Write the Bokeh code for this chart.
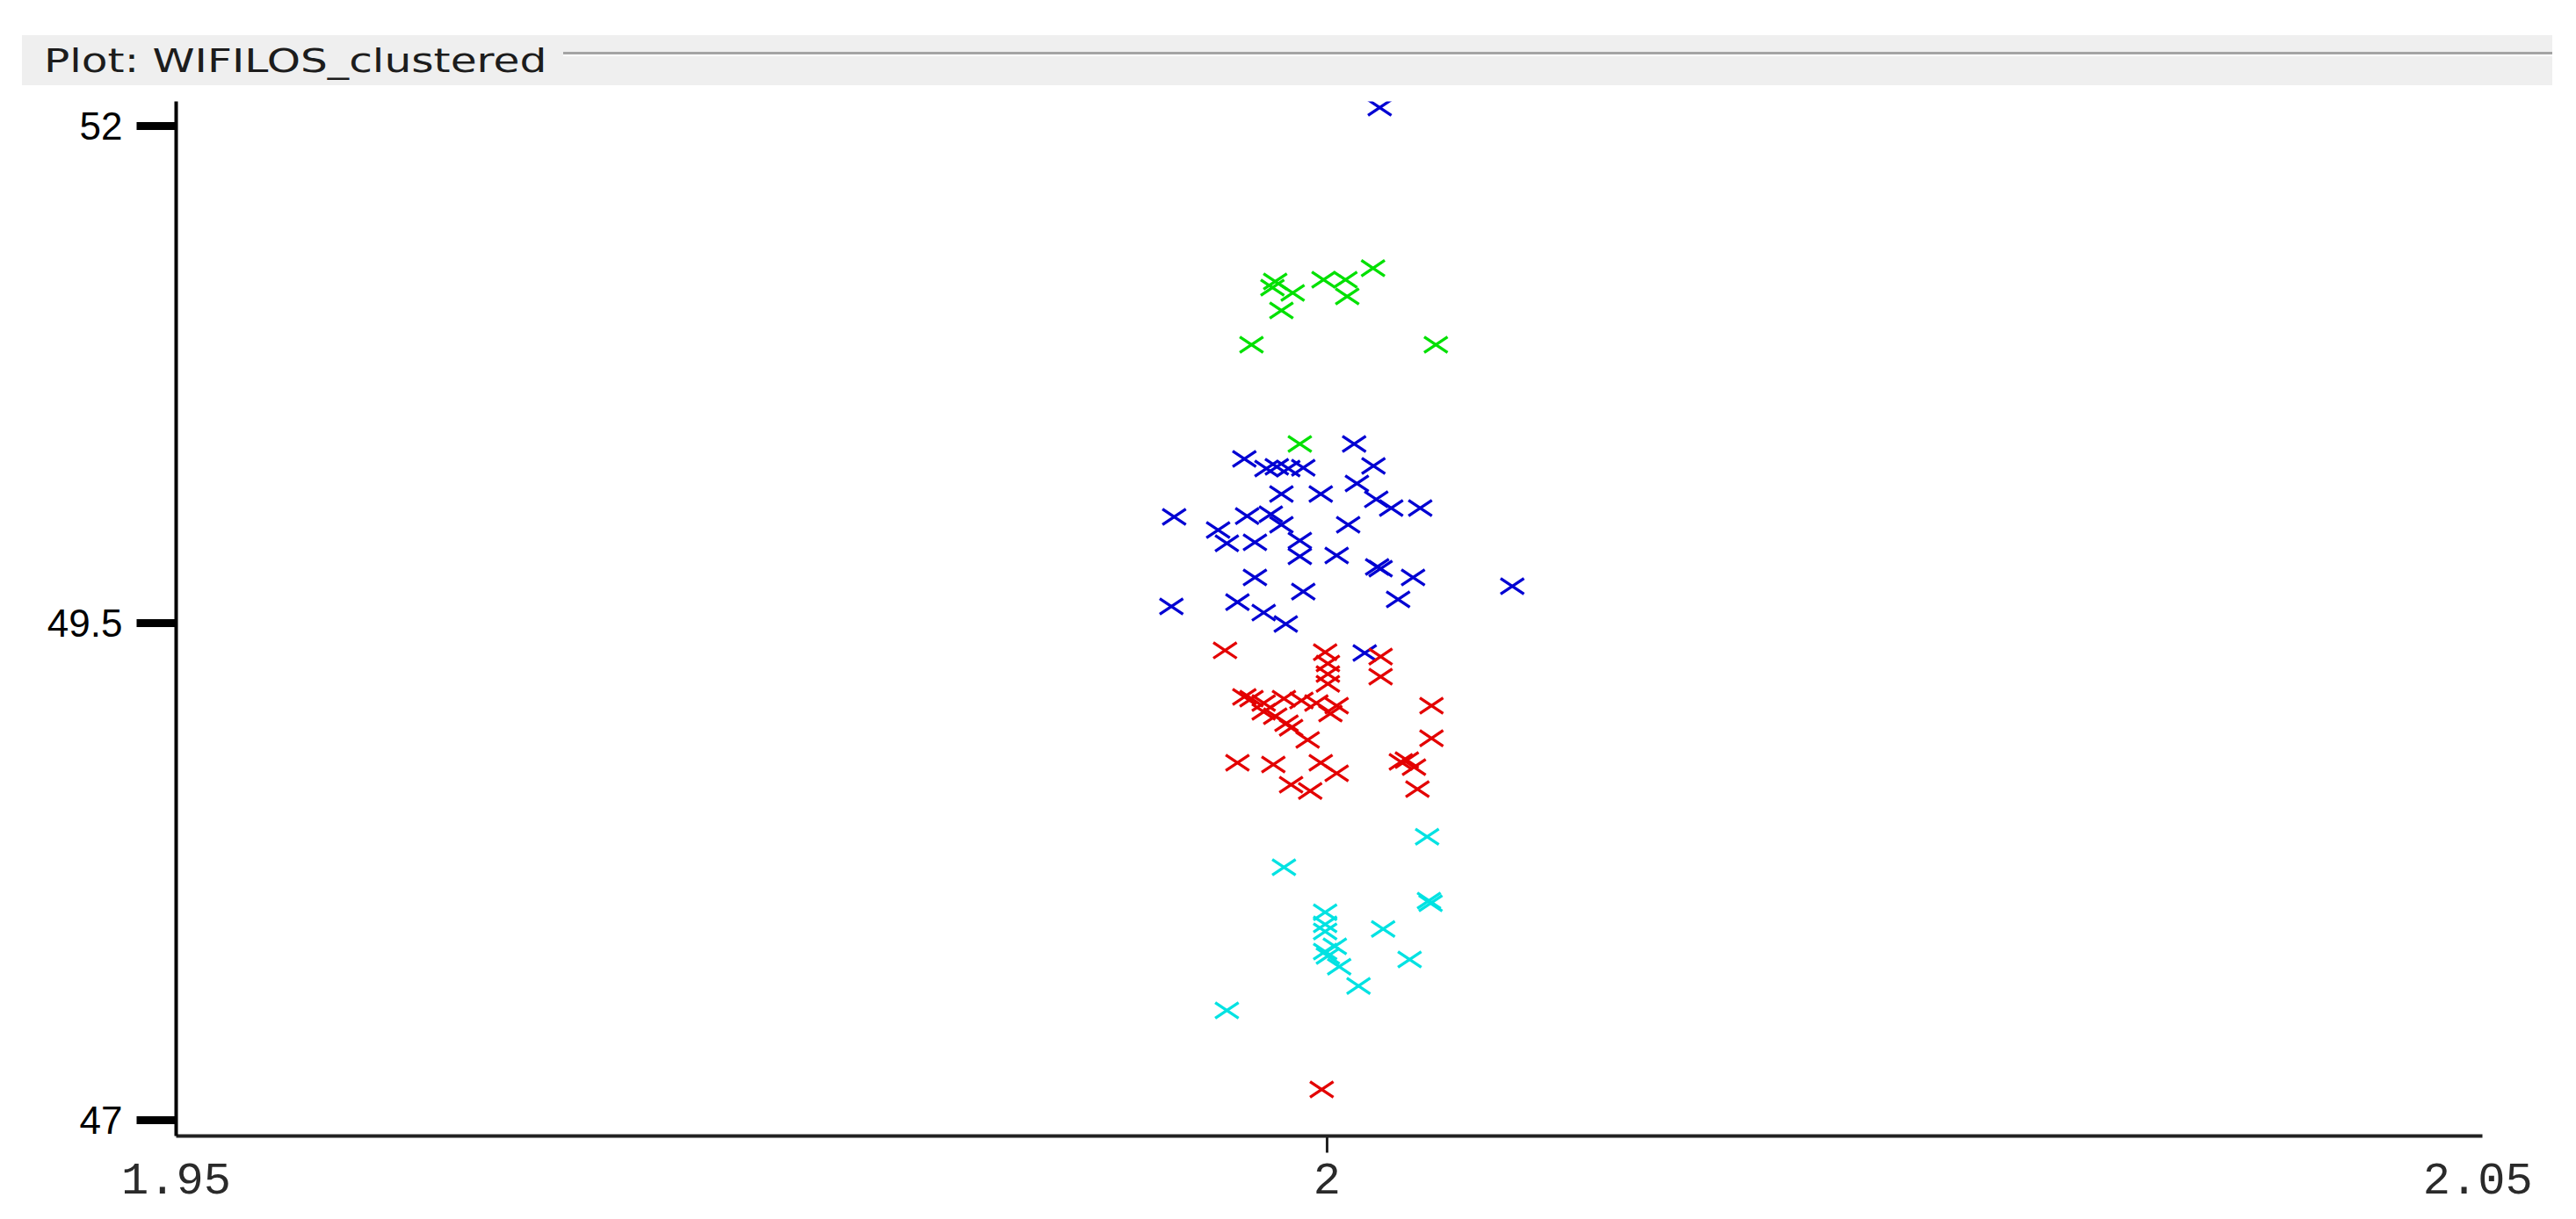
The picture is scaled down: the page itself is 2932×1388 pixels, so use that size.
from bokeh.plotting import figure
from bokeh.layouts import column
from bokeh.models import Range1d, FixedTicker, Div
from bokeh.embed import file_html
from bokeh.resources import INLINE

# ---------------- data ----------------
title_text = "Plot: WIFILOS_clustered"
x_ticks = [1.95, 2.0, 2.05]
x_tick_marks = [2.0]
x_tick_labels = {1.95: "1.95", 2.0: "2", 2.05: "2.05"}
y_ticks = [47, 49.5, 52]
y_tick_labels = {47: "47", 49.5: "49.5", 52: "52"}

green_x = [2.0020, 1.99985, 2.0008, 1.99775, 1.99763, 1.99851, 2.00088, 1.99802, 1.99672, 2.00473, 1.99882]
green_y = [51.286, 51.228, 51.228, 51.219, 51.188, 51.162, 51.144, 51.073, 50.901, 50.901, 50.402]

blue_x = [2.00229, 2.00118, 1.99641, 1.99737, 1.99782, 1.99832, 1.99897, 2.00202, 1.99802, 1.99973,
          2.0013, 2.00214, 2.00279, 2.00405, 1.99336, 1.99653, 1.99756, 1.99802, 1.99527, 1.99565,
          1.99687, 1.99882, 2.00092, 1.99882, 2.00042, 2.00233, 2.00218, 2.00374, 2.00805, 1.99687,
          1.99897, 2.00309, 1.99324, 1.99611, 1.99725, 1.99821, 2.00164]
blue_y = [52.094, 50.402, 50.327, 50.278, 50.287, 50.278, 50.282, 50.291, 50.150, 50.150,
          50.203, 50.123, 50.079, 50.079, 50.035, 50.039, 50.048, 49.995, 49.969, 49.902,
          49.907, 49.916, 49.995, 49.836, 49.841, 49.774, 49.783, 49.730, 49.686, 49.730,
          49.659, 49.620, 49.584, 49.606, 49.553, 49.496, 49.350]

red_x = [1.99557, 1.99992, 2.00233, 2.00004, 2.00004, 2.00233, 2.00004, 1.99672, 1.99641, 1.99725,
         1.99813, 1.99889, 1.99954, 2.00042, 1.99725, 1.99775, 2.00015, 1.99824, 1.99844, 1.99916,
         2.00454, 2.00454, 1.99611, 1.99767, 1.99973, 2.00042, 1.99844, 1.99927, 2.00321, 2.00347,
         2.00378, 2.00393, 1.99977]
red_y = [49.363, 49.354, 49.332, 49.297, 49.244, 49.231, 49.195, 49.120, 49.129, 49.098,
         49.120, 49.111, 49.098, 49.085, 49.054, 49.032, 49.045, 48.997, 48.974, 48.913,
         49.085, 48.921, 48.798, 48.789, 48.798, 48.745, 48.687, 48.656, 48.802, 48.811,
         48.776, 48.665, 47.154]

cyan_x = [2.00435, 1.99813, 2.00443, 2.0045, 1.99992, 1.99992, 1.99992, 2.00244, 2.00034, 1.99992,
          2.00004, 2.00359, 2.00053, 2.00137, 1.99565]
cyan_y = [48.426, 48.272, 48.104, 48.091, 48.046, 47.985, 47.949, 47.962, 47.874, 47.848,
          47.826, 47.808, 47.772, 47.675, 47.552]

clusters = [
    (blue_x, blue_y, "#0000d2"),
    (green_x, green_y, "#00e000"),
    (red_x, red_y, "#e30000"),
    (cyan_x, cyan_y, "#00e2e2"),
]

W = 2932
HEADER_H = 108

# ---------------- header band (HTML) ----------------
header_html = (
    f'<div style="position:relative;width:{W}px;height:{HEADER_H}px;background:#ffffff;overflow:hidden;">'
    '<div style="position:absolute;left:25px;top:40px;width:2880px;height:57px;background:#efefef;"></div>'
    '<div style="position:absolute;left:641px;top:59px;width:2264px;height:3px;background:#a4a4a4;"></div>'
    '<div style="position:absolute;left:641px;top:62px;width:2264px;height:2px;background:#ffffff;"></div>'
    '<span style="position:absolute;left:50px;top:50px;font-family:\'DejaVu Sans\';'
    'font-size:38px;line-height:38px;color:#1c1c1c;white-space:nowrap;'
    'display:inline-block;transform:scaleX(1.28);transform-origin:0 0;">'
    f'{title_text}</span>'
    '</div>'
)
header = Div(text=header_html, width=W, height=HEADER_H,
             styles={"margin": "0", "padding": "0"})

# ---------------- main plot ----------------
p = figure(width=W, height=1388 - HEADER_H, x_range=Range1d(1.95, 2.0502),
           y_range=Range1d(46.92, 52.125),
           toolbar_location=None, output_backend="svg",
           min_border_left=200, min_border_right=107, min_border_top=7, min_border_bottom=95)
p.outline_line_color = None
p.xgrid.visible = False
p.ygrid.visible = False
p.background_fill_color = "white"
p.border_fill_color = "white"

for xs, ys, c in clusters:
    for ang in (0.59, -0.59):
        p.scatter(x=xs, y=ys, marker="dash", size=32, angle=ang,
                  line_color=c, line_width=3.3)

xa = p.xaxis[0]
xa.ticker = FixedTicker(ticks=x_ticks, minor_ticks=x_tick_marks)
xa.major_label_overrides = x_tick_labels
xa.axis_line_color = "#222222"
xa.axis_line_width = 4
xa.major_tick_in = 0
xa.major_tick_out = 0
xa.major_tick_line_color = None
xa.minor_tick_in = 0
xa.minor_tick_out = 19
xa.minor_tick_line_width = 3
xa.minor_tick_line_color = "#222222"
xa.major_label_text_font = "Liberation Mono"
xa.major_label_text_font_size = "52px"
xa.major_label_text_color = "#2a2a2a"
xa.major_label_standoff = 12

ya = p.yaxis[0]
ya.ticker = FixedTicker(ticks=y_ticks)
ya.major_label_overrides = y_tick_labels
ya.axis_line_color = "black"
ya.axis_line_width = 4
ya.major_tick_in = 0
ya.major_tick_out = 45
ya.major_tick_line_width = 9
ya.major_tick_line_color = "black"
ya.minor_tick_line_color = None
ya.major_label_text_font = "Liberation Sans"
ya.major_label_text_font_size = "44px"
ya.major_label_text_color = "black"
ya.major_label_text_align = "right"
ya.major_label_standoff = 16

layout = column(header, p, spacing=0)
open("out.html", "w").write(file_html(layout, INLINE))
